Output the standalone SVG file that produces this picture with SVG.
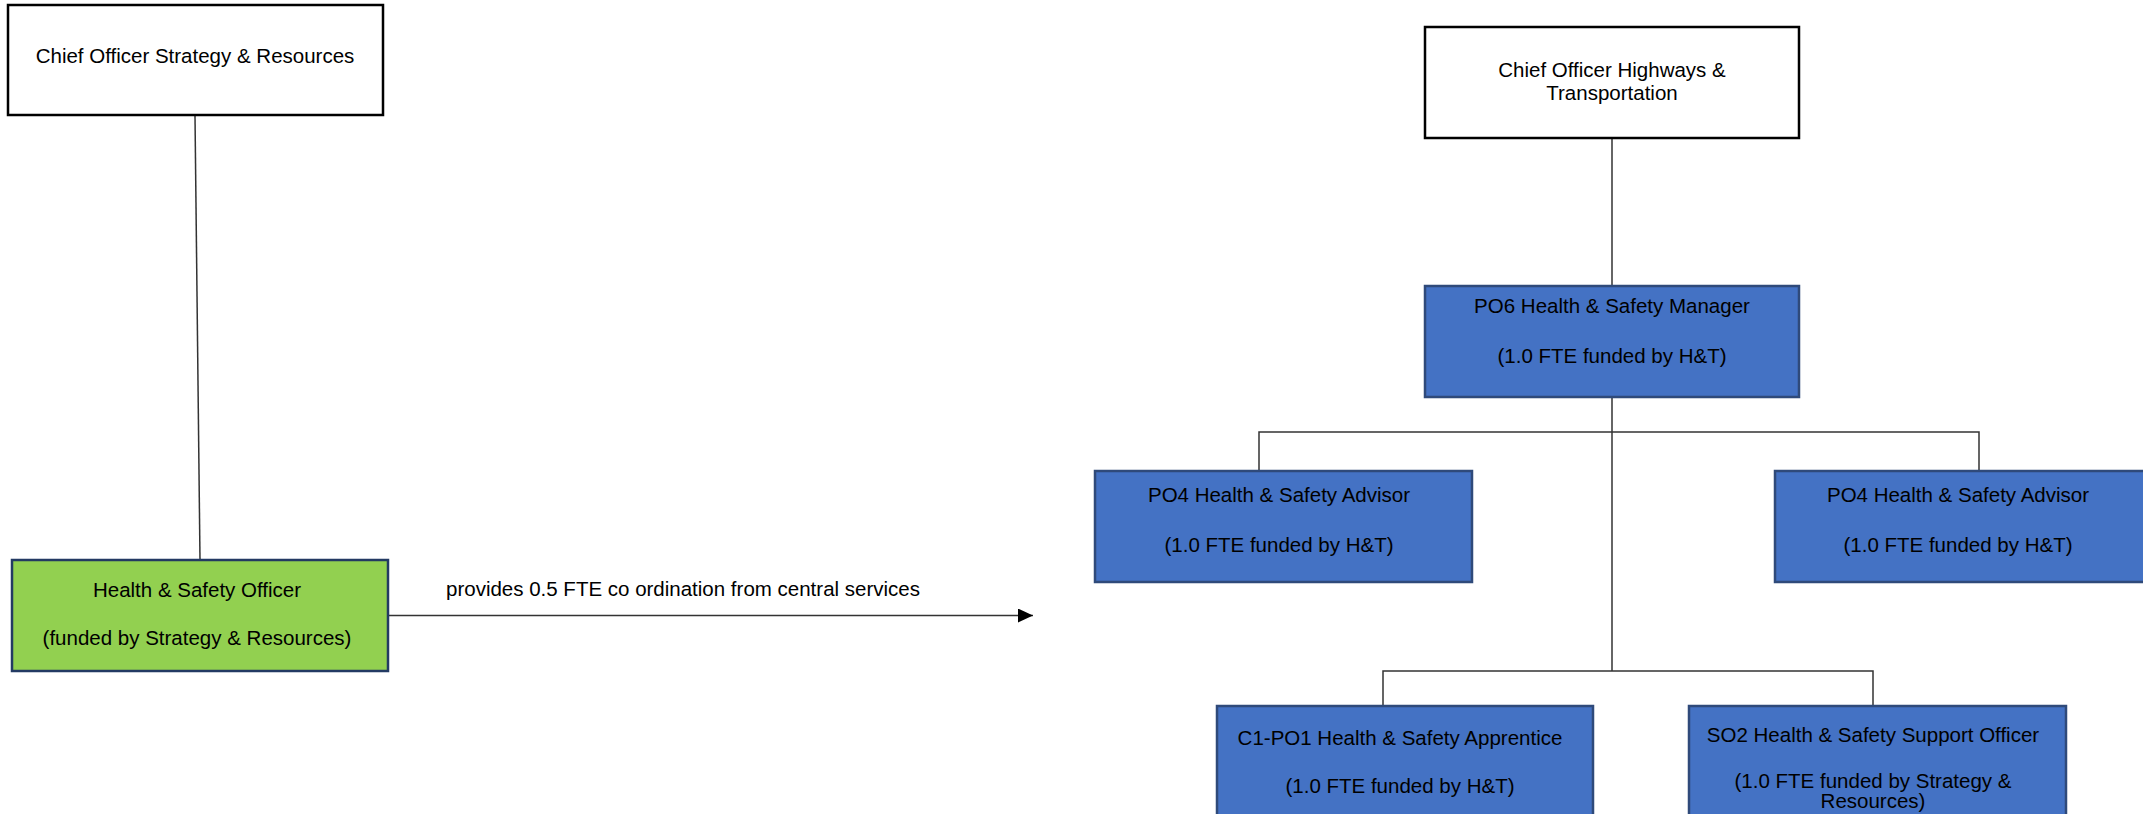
<svg xmlns="http://www.w3.org/2000/svg" width="2143" height="814" viewBox="0 0 2143 814">
<style>
.t{font-family:"Liberation Sans",Arial,sans-serif;font-size:20.5px;fill:#000;text-anchor:middle}
.w{fill:#fff;stroke:#000;stroke-width:2.5}
.b{fill:#4472C4;stroke:#2F4A7A;stroke-width:2.5}
.g{fill:#92D050;stroke:#233A63;stroke-width:2.5}
.c{fill:none;stroke:#333;stroke-width:1.5}
</style>
<defs>
<marker id="ah" markerWidth="15" markerHeight="14" refX="15" refY="7" orient="auto" markerUnits="userSpaceOnUse">
<path d="M0,0 L15,7 L0,14 Z" fill="#000"/>
</marker>
</defs>
<g id="connectors">
<line class="c" x1="195" y1="116" x2="200" y2="560"/>
<line class="c" x1="388" y1="615.5" x2="1033" y2="615.5" marker-end="url(#ah)"/>
<line class="c" x1="1612" y1="138" x2="1612" y2="286"/>
<line class="c" x1="1612" y1="397" x2="1612" y2="671"/>
<polyline class="c" points="1259,471 1259,432 1979,432 1979,471"/>
<polyline class="c" points="1383,706 1383,671 1873,671 1873,706"/>
<text class="t" x="446" y="596" style="text-anchor:start">provides 0.5 FTE co ordination from central services</text>
</g>
<g id="n-cosr">
<rect class="w" x="8" y="5" width="375" height="110"/>
<text class="t" x="195" y="63">Chief Officer Strategy &amp; Resources</text>
</g>
<g id="n-hso">
<rect class="g" x="12" y="560" width="376" height="111"/>
<text class="t" x="197" y="597">Health &amp; Safety Officer</text>
<text class="t" x="197" y="645">(funded by Strategy &amp; Resources)</text>
</g>
<g id="n-coht">
<rect class="w" x="1425" y="27" width="374" height="111"/>
<text class="t" x="1612" y="77">Chief Officer Highways &amp;</text>
<text class="t" x="1612" y="100">Transportation</text>
</g>
<g id="n-po6">
<rect class="b" x="1425" y="286" width="374" height="111"/>
<text class="t" x="1612" y="313">PO6 Health &amp; Safety Manager</text>
<text class="t" x="1612" y="363">(1.0 FTE funded by H&amp;T)</text>
</g>
<g id="n-po4a">
<rect class="b" x="1095" y="471" width="377" height="111"/>
<text class="t" x="1279" y="502">PO4 Health &amp; Safety Advisor</text>
<text class="t" x="1279" y="552">(1.0 FTE funded by H&amp;T)</text>
</g>
<g id="n-po4b">
<rect class="b" x="1775" y="471" width="377" height="111"/>
<text class="t" x="1958" y="502">PO4 Health &amp; Safety Advisor</text>
<text class="t" x="1958" y="552">(1.0 FTE funded by H&amp;T)</text>
</g>
<g id="n-c1po1">
<rect class="b" x="1217" y="706" width="376" height="120"/>
<text class="t" x="1400" y="745">C1-PO1 Health &amp; Safety Apprentice</text>
<text class="t" x="1400" y="793">(1.0 FTE funded by H&amp;T)</text>
</g>
<g id="n-so2">
<rect class="b" x="1689" y="706" width="377" height="120"/>
<text class="t" x="1873" y="742">SO2 Health &amp; Safety Support Officer</text>
<text class="t" x="1873" y="788">(1.0 FTE funded by Strategy &amp;</text>
<text class="t" x="1873" y="808">Resources)</text>
</g>
</svg>
